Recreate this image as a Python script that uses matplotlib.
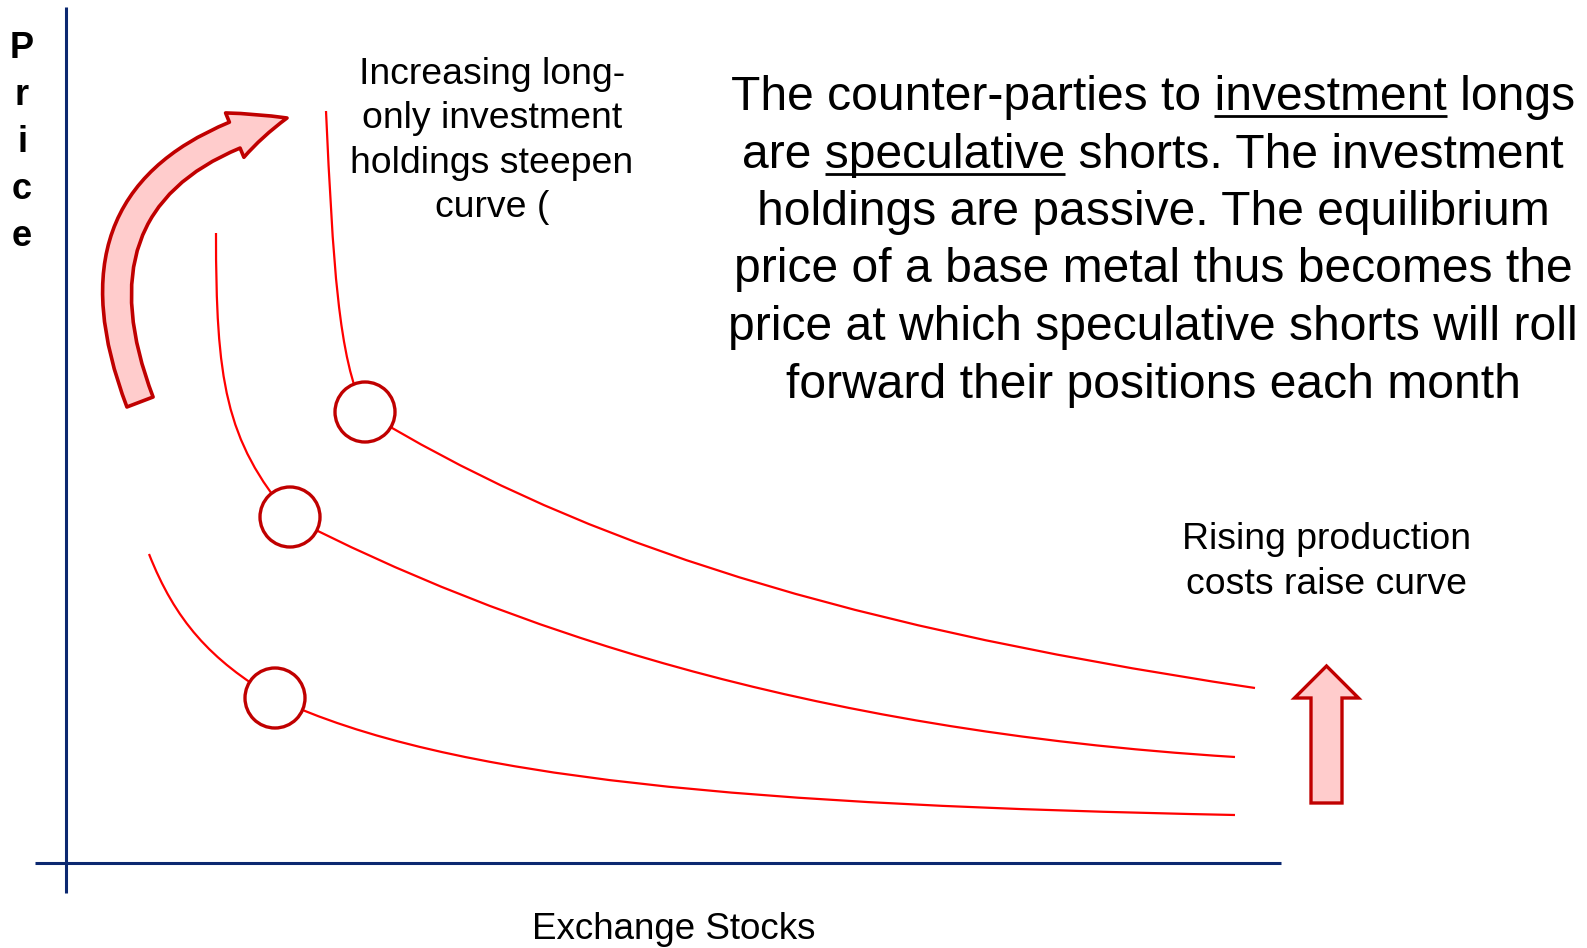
import matplotlib.pyplot as plt
import matplotlib.patches as mpatches
from matplotlib.path import Path

plt.rcParams['font.family'] = ['Liberation Sans', 'DejaVu Sans']

W, H = 1587, 948
DPI = 100

# supply curves, each two cubic bezier pieces joined at the kink (pixel coords)
curve_top = [(326, 111), (333, 260), (338, 360), (365, 412),
             (560, 530), (800, 620), (1255, 688)]
curve_mid = [(216, 233), (216, 380), (225, 440), (290, 517),
             (500, 625), (800, 730), (1235, 757)]
curve_low = [(149, 554), (175, 620), (210, 660), (275, 698),
             (450, 780), (750, 805), (1235, 815)]
curves = [curve_top, curve_mid, curve_low]
kinks = [(365, 412), (290, 517), (275, 698)]
kink_radius = 30

# axes of the sketch
y_axis = ([65.5, 65.5], [7, 893])
x_axis = ([35, 1281], [862.5, 862.5])

# arrows
bend_arrow = ((140, 402), (287, 118))
up_arrow = (1326.5, 803, 137)   # x, bottom, length

label_y = "Price"
label_x = "Exchange Stocks"
steepen_lines = ["Increasing long-", "only investment", "holdings steepen", "curve ("]
raise_lines = ["Rising production", "costs raise curve"]
note_lines = ["The counter-parties to investment longs",
              "are speculative shorts. The investment",
              "holdings are passive. The equilibrium",
              "price of a base metal thus becomes the",
              "price at which speculative shorts will roll",
              "forward their positions each month"]
note_underlined = {0: ("The counter-parties to ", "investment"),
                   1: ("are ", "speculative")}

red = '#ff0000'
dark_red = '#c00000'
pink = '#ffcccc'
navy = '#0b2870'

fig = plt.figure(figsize=(W / DPI, H / DPI), dpi=DPI)
ax = fig.add_axes([0, 0, 1, 1])
ax.set_xlim(0, W)
ax.set_ylim(H, 0)
ax.axis('off')

# axis lines
ax.plot(*y_axis, color=navy, lw=2.2, solid_capstyle='butt')
ax.plot(*x_axis, color=navy, lw=2.2, solid_capstyle='butt')

# curves
codes = [Path.MOVETO] + [Path.CURVE4] * 6
for pts in curves:
    ax.add_patch(mpatches.PathPatch(Path(pts, codes), fc='none', ec=red, lw=1.6, zorder=2))
for cx, cy in kinks:
    ax.add_patch(mpatches.Circle((cx, cy), kink_radius, fc='white', ec=dark_red, lw=2.4, zorder=3))

# curved arrow
style = mpatches.ArrowStyle.Simple(head_length=55, head_width=48, tail_width=28)
arr = mpatches.FancyArrowPatch(bend_arrow[0], bend_arrow[1], connectionstyle='arc3,rad=-0.56',
                               arrowstyle=style, mutation_scale=72 / DPI,
                               fc=pink, ec=dark_red, lw=2.6, shrinkA=0, shrinkB=0, zorder=4)
ax.add_patch(arr)

# straight up arrow
ux, ub, ul = up_arrow
ax.add_patch(mpatches.FancyArrow(ux, ub, 0, -ul, width=31, head_width=64, head_length=32,
                                 length_includes_head=True, fc=pink, ec=dark_red, lw=2.4,
                                 joinstyle='miter', zorder=4))

# text
for i, ch in enumerate(label_y):
    ax.text(22, 58 + 47 * i, ch, fontsize=26, fontweight='bold', ha='center', va='baseline')

ax.text(674, 939, label_x, fontsize=26.5, ha='center', va='baseline')

for i, s in enumerate(steepen_lines):
    ax.text(492, 83.5 + 44.5 * i, s, fontsize=26.9, ha='center', va='baseline')

for i, s in enumerate(raise_lines):
    ax.text(1326, 549 + 44.5 * i, s, fontsize=26.9, ha='center', va='baseline')

renderer = fig.canvas.get_renderer()


def text_width(s, size):
    t = ax.text(0, 0, s, fontsize=size)
    w = t.get_window_extent(renderer).width
    t.remove()
    return w


note_x, note_y0, note_dy, note_fs = 1153, 110, 57.5, 34.55
for i, s in enumerate(note_lines):
    y = note_y0 + note_dy * i
    ax.text(note_x, y, s, fontsize=note_fs, ha='center', va='baseline')
    if i in note_underlined:
        pre, word = note_underlined[i]
        left = note_x - text_width(s, note_fs) / 2
        x1 = left + text_width(pre + word, note_fs)
        x0 = x1 - text_width(word, note_fs)
        ax.plot([x0, x1], [y + 6, y + 6], color='black', lw=2.0, solid_capstyle='butt')

fig.savefig('out.png', dpi=DPI)
